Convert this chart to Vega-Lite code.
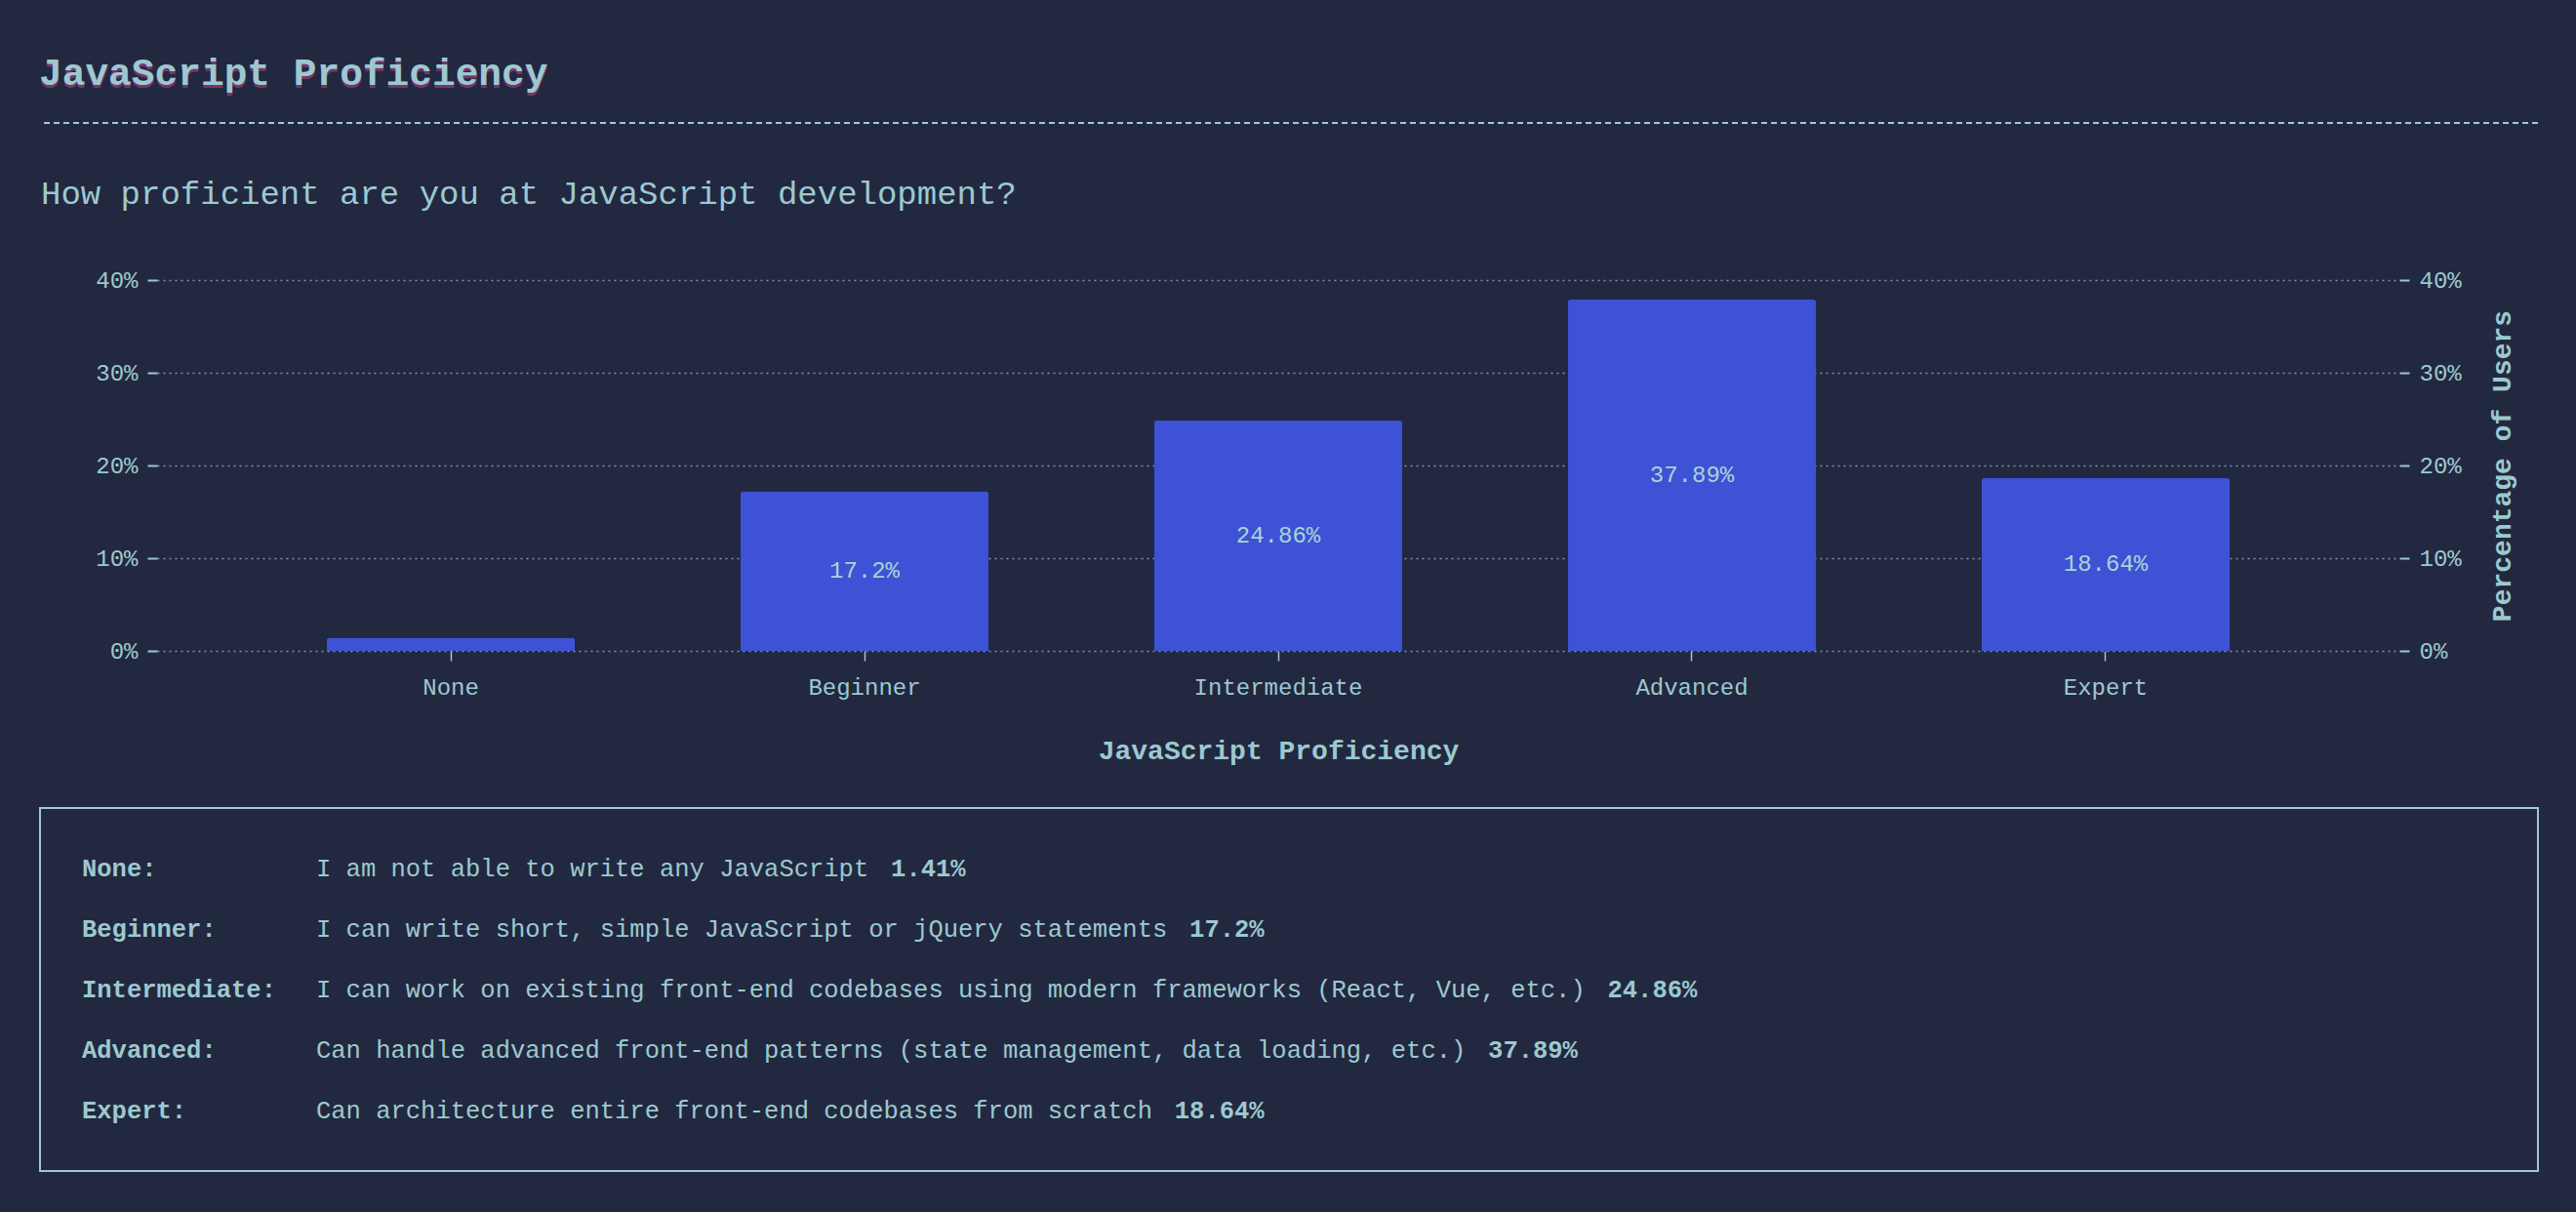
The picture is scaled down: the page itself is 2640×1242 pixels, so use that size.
{
  "$schema": "https://vega.github.io/schema/vega-lite/v6.json",
  "background": "#222840",
  "padding": {"left": 40, "right": 40, "top": 54, "bottom": 42},
  "title": {
    "text": "JavaScript Proficiency",
    "anchor": "start",
    "fontSize": 39.5,
    "fontWeight": "bold",
    "color": "#9cc9cf",
    "baseline": "alphabetic",
    "offset": -68
  },
  "datasets": {
    "levels": [
      {"level": "None", "description": "I am not able to write any JavaScript", "pct": 0.0141},
      {"level": "Beginner", "description": "I can write short, simple JavaScript or jQuery statements", "pct": 0.172},
      {"level": "Intermediate", "description": "I can work on existing front-end codebases using modern frameworks (React, Vue, etc.)", "pct": 0.2486},
      {"level": "Advanced", "description": "Can handle advanced front-end patterns (state management, data loading, etc.)", "pct": 0.3789},
      {"level": "Expert", "description": "Can architecture entire front-end codebases from scratch", "pct": 0.1864}
    ]
  },
  "spacing": 44,
  "vconcat": [
    {
      "width": 2560,
      "height": 12,
      "title": {
        "text": "JavaScript Proficiency",
        "anchor": "start",
        "frame": "bounds",
        "fontSize": 39.5,
        "fontWeight": "bold",
        "color": "rgba(196, 64, 150, 0.55)",
        "baseline": "alphabetic",
        "offset": -4.5
      },
      "data": {"values": [{"v": 1}]},
      "mark": {"type": "rule", "color": "#9cc9cf", "strokeDash": [6, 4], "strokeWidth": 2},
      "encoding": {
        "y": {"field": "v", "type": "quantitative", "scale": {"domain": [0, 1]}, "axis": null}
      }
    },
    {
      "spacing": 0,
      "hconcat": [
        {
          "width": 1,
          "height": 1,
          "data": {"values": []},
          "mark": {"type": "text"},
          "encoding": {}
        },
        {
          "width": 2298,
          "height": 380,
          "title": {
            "text": "How proficient are you at JavaScript development?",
            "anchor": "start",
            "frame": "bounds",
            "fontSize": 34,
            "fontWeight": "normal",
            "baseline": "alphabetic",
            "offset": 32,
            "color": "#9cc9cf"
          },
          "data": {"name": "levels"},
          "encoding": {
            "x": {
              "field": "level",
              "type": "nominal",
              "sort": ["None", "Beginner", "Intermediate", "Advanced", "Expert"],
              "scale": {"paddingInner": 0.4, "paddingOuter": 0.41},
              "title": "JavaScript Proficiency",
              "axis": {
                "labelAngle": 0,
                "labelFontSize": 24,
                "labelPadding": 15,
                "tickSize": 10,
                "tickWidth": 1.5,
                "domain": false,
                "titleFontSize": 28,
                "titleFontWeight": "bold",
                "titlePadding": 39
              }
            }
          },
          "layer": [
            {
              "mark": {"type": "bar", "color": "#3d52d4", "cornerRadiusTopLeft": 3, "cornerRadiusTopRight": 3},
              "encoding": {
                "y": {
                  "field": "pct",
                  "type": "quantitative",
                  "scale": {"domain": [0, 0.4]},
                  "axis": {
                    "orient": "left",
                    "title": null,
                    "format": ".0%",
                    "values": [0, 0.1, 0.2, 0.3, 0.4],
                    "grid": true,
                    "gridColor": "#9cc9cf",
                    "gridDash": [2, 4],
                    "gridOpacity": 0.7,
                    "gridWidth": 1.5,
                    "domain": false,
                    "tickSize": 10,
                    "tickWidth": 2,
                    "labelFontSize": 24,
                    "labelPadding": 10,
                    "minExtent": 119
                  }
                }
              }
            },
            {
              "transform": [{"filter": "datum.pct > 0.05"}],
              "mark": {"type": "text", "fontSize": 24, "color": "#a8d3d8", "baseline": "middle"},
              "encoding": {
                "y": {
                  "field": "pct",
                  "type": "quantitative",
                  "stack": "zero",
                  "bandPosition": 0.5,
                  "scale": {"domain": [0, 0.4]},
                  "axis": {
                    "orient": "right",
                    "title": "Percentage of Users",
                    "format": ".0%",
                    "values": [0, 0.1, 0.2, 0.3, 0.4],
                    "grid": false,
                    "domain": false,
                    "tickSize": 10,
                    "tickWidth": 2,
                    "labelFontSize": 24,
                    "labelPadding": 10,
                    "titleFontSize": 28,
                    "titleFontWeight": "bold",
                    "titleAngle": 270,
                    "titleBaseline": "top",
                    "titlePadding": 28
                  }
                },
                "text": {"field": "pct", "type": "quantitative", "format": ".2~%"}
              }
            }
          ],
          "resolve": {"axis": {"y": "independent"}}
        }
      ]
    },
    {
      "width": 2560,
      "height": 372,
      "view": {"stroke": "#9cc9cf", "strokeWidth": 2},
      "data": {"name": "levels"},
      "encoding": {
        "y": {
          "field": "level",
          "type": "nominal",
          "sort": ["None", "Beginner", "Intermediate", "Advanced", "Expert"],
          "scale": {"type": "point", "padding": 1},
          "axis": null
        }
      },
      "layer": [
        {
          "mark": {"type": "text", "align": "left", "baseline": "middle", "fontSize": 25.5, "fontWeight": "bold", "color": "#9cc9cf", "text": {"expr": "datum.level + ':'"}},
          "encoding": {
            "x": {"datum": "label", "type": "nominal", "scale": {"type": "point", "domain": ["label", "desc"], "range": [43, 283], "padding": 0}, "axis": null}
          }
        },
        {
          "mark": {"type": "text", "align": "left", "baseline": "middle", "fontSize": 25.5, "color": "#9cc9cf"},
          "encoding": {
            "x": {"datum": "desc", "type": "nominal", "axis": null},
            "text": {"field": "description"}
          }
        },
        {
          "mark": {"type": "text", "align": "left", "baseline": "middle", "fontSize": 25.5, "fontWeight": "bold", "color": "#9cc9cf", "dx": {"expr": "length(datum.description) * 15.3 + 23"}},
          "encoding": {
            "x": {"datum": "desc", "type": "nominal", "axis": null},
            "text": {"field": "pct", "type": "quantitative", "format": ".2~%"}
          }
        }
      ]
    }
  ],
  "config": {
    "font": "Liberation Mono",
    "view": {"stroke": null},
    "axis": {
      "labelColor": "#9cc9cf",
      "titleColor": "#9cc9cf",
      "tickColor": "#9cc9cf",
      "labelFont": "Liberation Mono",
      "titleFont": "Liberation Mono"
    }
  }
}
